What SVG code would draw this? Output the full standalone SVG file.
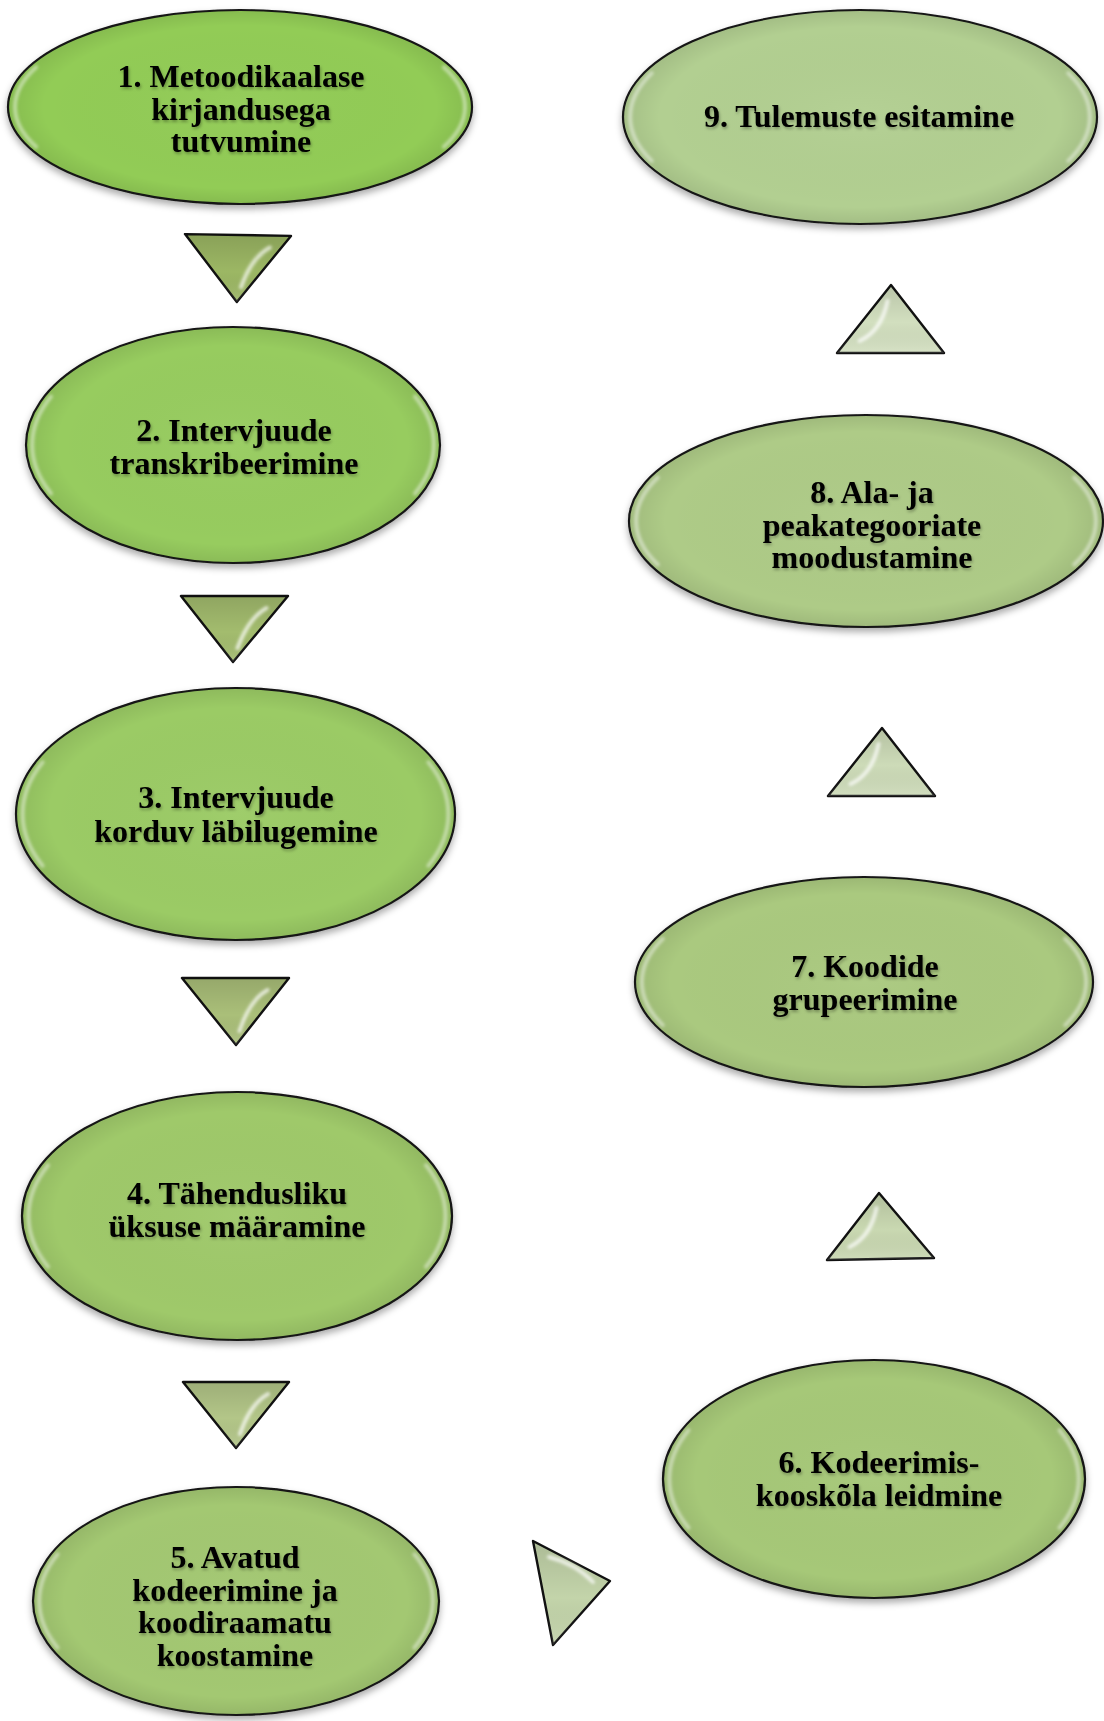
<svg xmlns="http://www.w3.org/2000/svg" width="1104" height="1721" viewBox="0 0 1104 1721">
<defs>
<filter id="shadow" x="-10%" y="-10%" width="120%" height="130%">
<feDropShadow dx="0" dy="4" stdDeviation="3.5" flood-color="#000" flood-opacity="0.33"/>
</filter>
<filter id="tshadow" x="-10%" y="-30%" width="120%" height="160%">
<feDropShadow dx="1" dy="2" stdDeviation="1.6" flood-color="#000" flood-opacity="0.3"/>
</filter>
<filter id="blur" x="-30%" y="-30%" width="160%" height="160%">
<feGaussianBlur stdDeviation="1.8"/>
</filter>
<radialGradient id="shade" cx="50%" cy="50%" r="50%">
<stop offset="0" stop-color="#fff" stop-opacity="0.04"/>
<stop offset="0.85" stop-color="#000" stop-opacity="0"/>
<stop offset="1" stop-color="#000" stop-opacity="0.08"/>
</radialGradient>
<linearGradient id="tshade" x1="0" y1="0" x2="0" y2="1">
<stop offset="0" stop-color="#000" stop-opacity="0.12"/>
<stop offset="0.55" stop-color="#000" stop-opacity="0"/>
<stop offset="1" stop-color="#fff" stop-opacity="0.12"/>
</linearGradient>
</defs>
<style>
.el{stroke:#151515;stroke-width:2.2}
.ov{fill:url(#shade);stroke:none}
.hl{fill:none;stroke:#fff;stroke-opacity:0.45;stroke-width:4;stroke-linecap:round;filter:url(#blur)}
.tx{font-family:"Liberation Serif","Times New Roman",serif;font-weight:bold;font-size:32px;fill:#000;text-anchor:middle;filter:url(#tshadow)}
.tri{stroke:#111;stroke-width:2.4;stroke-linejoin:round}
.tov{fill:url(#tshade);stroke:none}
.thl{fill:none;stroke:#fff;stroke-opacity:0.7;stroke-width:4;stroke-linecap:round;filter:url(#blur)}
</style>

<g id="connectors">
<g id="arrow1-2" transform="translate(238,235) rotate(1)">
<polygon class="tri" points="-53,0 53,0 0,67" fill="#9cb764"/>
<polygon class="tov" points="-53,0 53,0 0,67"/>
<path class="thl" d="M 32 12 Q 14 22 4 52"/>
</g>
<g id="arrow2-3" transform="translate(234.5,596)">
<polygon class="tri" points="-53.5,0 53.5,0 -1.5,66" fill="#a3bc6e"/>
<polygon class="tov" points="-53.5,0 53.5,0 -1.5,66"/>
<path class="thl" d="M 32 12 Q 14 22 3 52"/>
</g>
<g id="arrow3-4" transform="translate(235.5,978)">
<polygon class="tri" points="-53.5,0 53.5,0 0.5,67" fill="#aabf79"/>
<polygon class="tov" points="-53.5,0 53.5,0 0.5,67"/>
<path class="thl" d="M 32 12 Q 14 22 4 53"/>
</g>
<g id="arrow4-5" transform="translate(236,1382)">
<polygon class="tri" points="-53,0 53,0 0,66" fill="#b3c688"/>
<polygon class="tov" points="-53,0 53,0 0,66"/>
<path class="thl" d="M 32 12 Q 14 22 4 52"/>
</g>
<g id="arrow5-6">
<polygon class="tri" points="533,1541 610,1581 553,1645" fill="#c3d4aa"/>
<polygon class="tov" points="533,1541 610,1581 553,1645"/>
<path class="thl" d="M 549 1557 Q 576 1564 593 1582"/>
</g>
<g id="arrow6-7" transform="translate(880.5,1259)">
<polygon class="tri" points="-53.5,1 53.5,-1 -1.5,-66" fill="#c9d8b1"/>
<polygon class="tov" points="-53.5,1 53.5,-1 -1.5,-66"/>
<path class="thl" d="M -4 -51 Q -10 -22 -31 -12"/>
</g>
<g id="arrow7-8" transform="translate(881.5,796)">
<polygon class="tri" points="-53.5,0 53.5,0 0.5,-68" fill="#cddbb8"/>
<polygon class="tov" points="-53.5,0 53.5,0 0.5,-68"/>
<path class="thl" d="M -3 -52 Q -9 -22 -31 -12"/>
</g>
<g id="arrow8-9" transform="translate(890.5,353)">
<polygon class="tri" points="-53.5,0 53.5,0 0.5,-68" fill="#d2dfbf"/>
<polygon class="tov" points="-53.5,0 53.5,0 0.5,-68"/>
<path class="thl" d="M -3 -52 Q -9 -22 -31 -12"/>
</g>
</g>

<g id="node1">
<ellipse class="el" cx="240" cy="107" rx="232" ry="97" fill="#92cc56" filter="url(#shadow)"/>
<ellipse class="ov" cx="240" cy="107" rx="231" ry="96"/>
<g transform="translate(240,107)">
<path class="hl" d="M -203.9 -39.8 A 225 94.1 0 0 0 -203.9 39.8"/>
<path class="hl" d="M 203.9 -39.8 A 225 94.1 0 0 1 203.9 39.8"/>
</g>
<text class="tx" x="241" y="87">1. Metoodikaalase</text>
<text class="tx" x="241" y="119.5">kirjandusega</text>
<text class="tx" x="241" y="152">tutvumine</text>
</g>

<g id="node2">
<ellipse class="el" cx="233" cy="445" rx="207" ry="118" fill="#97cc5e" filter="url(#shadow)"/>
<ellipse class="ov" cx="233" cy="445" rx="206" ry="117"/>
<g transform="translate(233,445)">
<path class="hl" d="M -182 -48.4 A 200.8 114.5 0 0 0 -182 48.4"/>
<path class="hl" d="M 182 -48.4 A 200.8 114.5 0 0 1 182 48.4"/>
</g>
<text class="tx" x="234" y="441">2. Intervjuude</text>
<text class="tx" x="234" y="474">transkribeerimine</text>
</g>

<g id="node3">
<ellipse class="el" cx="235.5" cy="814" rx="219.5" ry="126" fill="#9bcb65" filter="url(#shadow)"/>
<ellipse class="ov" cx="235.5" cy="814" rx="218.5" ry="125"/>
<g transform="translate(235.5,814)">
<path class="hl" d="M -192.9 -51.7 A 212.9 122.2 0 0 0 -192.9 51.7"/>
<path class="hl" d="M 192.9 -51.7 A 212.9 122.2 0 0 1 192.9 51.7"/>
</g>
<text class="tx" x="236" y="808">3. Intervjuude</text>
<text class="tx" x="236" y="842">korduv läbilugemine</text>
</g>

<g id="node4">
<ellipse class="el" cx="237" cy="1216" rx="215" ry="124" fill="#9fc96b" filter="url(#shadow)"/>
<ellipse class="ov" cx="237" cy="1216" rx="214" ry="123"/>
<g transform="translate(237,1216)">
<path class="hl" d="M -189 -50.8 A 208.6 120.3 0 0 0 -189 50.8"/>
<path class="hl" d="M 189 -50.8 A 208.6 120.3 0 0 1 189 50.8"/>
</g>
<text class="tx" x="237" y="1204">4. Tähendusliku</text>
<text class="tx" x="237" y="1237">üksuse määramine</text>
</g>

<g id="node5">
<ellipse class="el" cx="236" cy="1601" rx="203" ry="114" fill="#a3c872" filter="url(#shadow)"/>
<ellipse class="ov" cx="236" cy="1601" rx="202" ry="113"/>
<g transform="translate(236,1601)">
<path class="hl" d="M -178.4 -46.7 A 196.9 110.6 0 0 0 -178.4 46.7"/>
<path class="hl" d="M 178.4 -46.7 A 196.9 110.6 0 0 1 178.4 46.7"/>
</g>
<text class="tx" x="235" y="1568">5. Avatud</text>
<text class="tx" x="235" y="1600.5">kodeerimine ja</text>
<text class="tx" x="235" y="1633">koodiraamatu</text>
<text class="tx" x="235" y="1665.5">koostamine</text>
</g>

<g id="node6">
<ellipse class="el" cx="874" cy="1479" rx="211" ry="119" fill="#a6c878" filter="url(#shadow)"/>
<ellipse class="ov" cx="874" cy="1479" rx="210" ry="118"/>
<g transform="translate(874,1479)">
<path class="hl" d="M -185.5 -48.8 A 204.7 115.4 0 0 0 -185.5 48.8"/>
<path class="hl" d="M 185.5 -48.8 A 204.7 115.4 0 0 1 185.5 48.8"/>
</g>
<text class="tx" x="879" y="1473">6. Kodeerimis-</text>
<text class="tx" x="879" y="1506">kooskõla leidmine</text>
</g>

<g id="node7">
<ellipse class="el" cx="864" cy="982" rx="229" ry="105" fill="#aac97f" filter="url(#shadow)"/>
<ellipse class="ov" cx="864" cy="982" rx="228" ry="104"/>
<g transform="translate(864,982)">
<path class="hl" d="M -201.3 -43.1 A 222.1 101.9 0 0 0 -201.3 43.1"/>
<path class="hl" d="M 201.3 -43.1 A 222.1 101.9 0 0 1 201.3 43.1"/>
</g>
<text class="tx" x="865" y="977">7. Koodide</text>
<text class="tx" x="865" y="1010">grupeerimine</text>
</g>

<g id="node8">
<ellipse class="el" cx="866" cy="521" rx="237" ry="106" fill="#aecb87" filter="url(#shadow)"/>
<ellipse class="ov" cx="866" cy="521" rx="236" ry="105"/>
<g transform="translate(866,521)">
<path class="hl" d="M -208.3 -43.5 A 229.9 102.8 0 0 0 -208.3 43.5"/>
<path class="hl" d="M 208.3 -43.5 A 229.9 102.8 0 0 1 208.3 43.5"/>
</g>
<text class="tx" x="872" y="503">8. Ala- ja</text>
<text class="tx" x="872" y="535.5">peakategooriate</text>
<text class="tx" x="872" y="568">moodustamine</text>
</g>

<g id="node9">
<ellipse class="el" cx="860" cy="117" rx="237" ry="107" fill="#b2cf91" filter="url(#shadow)"/>
<ellipse class="ov" cx="860" cy="117" rx="236" ry="106"/>
<g transform="translate(860,117)">
<path class="hl" d="M -208.3 -43.9 A 229.9 103.8 0 0 0 -208.3 43.9"/>
<path class="hl" d="M 208.3 -43.9 A 229.9 103.8 0 0 1 208.3 43.9"/>
</g>
<text class="tx" x="859" y="127">9. Tulemuste esitamine</text>
</g>
</svg>
